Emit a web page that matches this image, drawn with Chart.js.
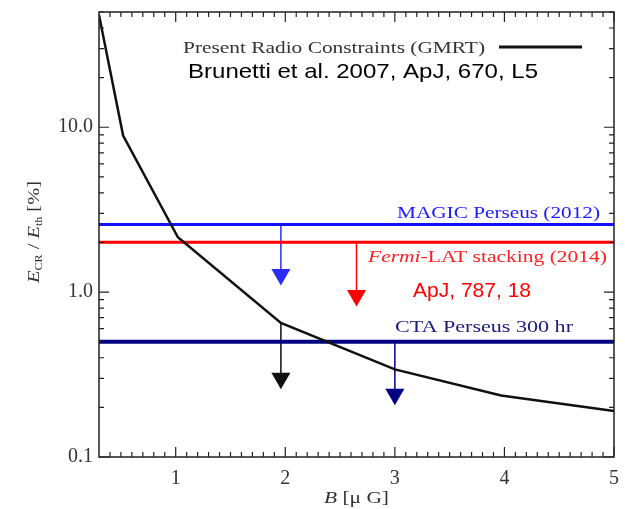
<!DOCTYPE html>
<html>
<head>
<meta charset="utf-8">
<script src="https://cdn.jsdelivr.net/npm/chart.js@4.4.1/dist/chart.umd.min.js"></script>
<style>
  html, body { margin: 0; padding: 0; background: #fff; }
  #chartContainer { width: 625px; height: 509px; }
</style>
</head>
<body>
<div id="chartContainer"><canvas id="ecrChart"></canvas></div>
<script>
// Magnetic field B (micro Gauss) and GMRT radio limit on E_CR / E_th (%)
const bField = [0.3, 0.52, 1.02, 1.96, 3.0, 3.97, 5.0];
const gmrtLimit = [48, 8.9, 2.15, 0.65, 0.34, 0.236, 0.19];

// Gamma-ray upper limits (%), flat in B
const magicLimit = 2.57;
const fermiLimit = 2.01;
const ctaLimit = 0.5;

// Downward arrows: B position, start value, triangle value
const arrowB = [1.96, 1.96, 2.65, 3.0];
const arrowFrom = [2.57, 0.65, 2.01, 0.5];
const arrowTo = [1.28, 0.30, 0.955, 0.24];
const arrowColors = ["#2b2bff", "#111111", "#ff0000", "#000080"];

// Axis ticks
const xTicks = [1, 2, 3, 4, 5];
const xTickLabels = ["1", "2", "3", "4", "5"];
const yTicks = [0.1, 1, 10];
const yTickLabels = ["0.1", "1.0", "10.0"];

const xMin = 0.3, xMax = 5;
const yMin = 0.1, yMax = 50;

const SERIF = "'Liberation Serif', 'Times New Roman', serif";
const SANS = "'Liberation Sans', Arial, sans-serif";

document.addEventListener("DOMContentLoaded", function () {

    function flatLine(value) {
        return [{ x: xMin, y: value }, { x: xMax, y: value }];
    }

    const datasets = [
        {
            label: "Present Radio Constraints (GMRT)",
            data: bField.map((b, i) => ({ x: b, y: gmrtLimit[i] })),
            borderColor: "#111",
            borderWidth: 2.5,
            pointRadius: 0
        },
        { label: "MAGIC", data: flatLine(magicLimit), borderColor: "#1010ff", borderWidth: 3, pointRadius: 0 },
        { label: "Fermi", data: flatLine(fermiLimit), borderColor: "#ff0000", borderWidth: 3, pointRadius: 0 },
        { label: "CTA", data: flatLine(ctaLimit), borderColor: "#000080", borderWidth: 4, pointRadius: 0 }
    ];

    arrowB.forEach(function (b, i) {
        datasets.push({
            label: "arrow" + i,
            data: [{ x: b, y: arrowFrom[i] }, { x: b, y: arrowTo[i] }],
            borderColor: arrowColors[i],
            borderWidth: 1.5,
            pointRadius: [0, 11],
            pointStyle: "triangle",
            rotation: 180,
            pointBackgroundColor: arrowColors[i],
            pointBorderColor: arrowColors[i],
            pointBorderWidth: 0
        });
    });

    // draw text pieces stretched to a target width
    function drawText(ctx, parts, x, y, align, targetWidth, color) {
        let natural = 0;
        parts.forEach(function (p) {
            ctx.font = p.font;
            p.w = ctx.measureText(p.t).width;
            natural += p.w;
        });
        const sx = targetWidth ? targetWidth / natural : 1;
        const total = natural * sx;
        let start = x;
        if (align === "center") start = x - total / 2;
        if (align === "right") start = x - total;
        ctx.save();
        ctx.translate(start, y);
        ctx.scale(sx, 1);
        ctx.fillStyle = color;
        ctx.textAlign = "left";
        ctx.textBaseline = "alphabetic";
        let cx = 0;
        parts.forEach(function (p) {
            ctx.font = p.font;
            ctx.fillText(p.t, cx, p.dy || 0);
            cx += p.w;
        });
        ctx.restore();
    }

    const framePlugin = {
        id: "frame",
        afterDraw(chart) {
            const ctx = chart.ctx;
            const area = chart.chartArea;
            const xs = chart.scales.x, ys = chart.scales.y;
            ctx.save();
            ctx.strokeStyle = "#222";
            ctx.lineWidth = 1.5;
            ctx.strokeRect(area.left, area.top, area.right - area.left, area.bottom - area.top);

            ctx.lineWidth = 1.2;
            ctx.beginPath();
            // x ticks every 0.1, major at integers
            for (let k = 4; k <= 50; k++) {
                const v = k / 10;
                const px = xs.getPixelForValue(v);
                const len = k % 10 === 0 ? 10 : 5;
                ctx.moveTo(px, area.bottom); ctx.lineTo(px, area.bottom - len);
                ctx.moveTo(px, area.top); ctx.lineTo(px, area.top + len);
            }
            // y ticks per decade
            [0.1, 1, 10].forEach(function (dec) {
                for (let m = 1; m <= 9; m++) {
                    const v = dec * m;
                    if (v > yMax) break;
                    const py = ys.getPixelForValue(v);
                    const len = m === 1 ? 10 : 5;
                    ctx.moveTo(area.left, py); ctx.lineTo(area.left + len, py);
                    ctx.moveTo(area.right, py); ctx.lineTo(area.right - len, py);
                }
            });
            ctx.stroke();

            // legend entry for the radio curve
            drawText(ctx, [{ t: "Present Radio Constraints (GMRT)", font: "17px " + SERIF }], 183, 53, "left", 302, "#333");
            ctx.strokeStyle = "#111";
            ctx.lineWidth = 3;
            ctx.beginPath();
            ctx.moveTo(499, 47); ctx.lineTo(582, 47);
            ctx.stroke();
            drawText(ctx, [{ t: "Brunetti et al. 2007, ApJ, 670, L5", font: "21px " + SANS }], 188, 78, "left", 350, "#000");

            // limit labels
            const yMagic = ys.getPixelForValue(magicLimit);
            const yFermi = ys.getPixelForValue(fermiLimit);
            const yCta = ys.getPixelForValue(ctaLimit);
            drawText(ctx, [{ t: "MAGIC Perseus (2012)", font: "17px " + SERIF }], 600, yMagic - 7, "right", 203, "#1a1aff");
            drawText(ctx, [
                { t: "Fermi", font: "italic 17px " + SERIF },
                { t: "-LAT stacking (2014)", font: "17px " + SERIF }
            ], 607, yFermi + 20, "right", 239, "#ff2020");
            drawText(ctx, [{ t: "ApJ, 787, 18", font: "21px " + SANS }], 413, yFermi + 55, "left", 118, "#ff0000");
            drawText(ctx, [{ t: "CTA Perseus 300 hr", font: "17px " + SERIF }], 395, yCta - 10, "left", 178, "#1a1a80");

            // axis titles
            drawText(ctx, [
                { t: "B", font: "italic 17px " + SERIF },
                { t: " [\u03bc G]", font: "17px " + SERIF }
            ], (area.left + area.right) / 2, 503, "center", 65, "#333");

            ctx.save();
            ctx.translate(39, 232);
            ctx.rotate(-Math.PI / 2);
            drawText(ctx, [
                { t: "E", font: "italic 17px " + SERIF },
                { t: "CR", font: "10px " + SERIF, dy: 3 },
                { t: " / ", font: "17px " + SERIF },
                { t: "E", font: "italic 17px " + SERIF },
                { t: "th", font: "10px " + SERIF, dy: 3 },
                { t: " [%]", font: "17px " + SERIF }
            ], 0, 0, "center", 102, "#333");
            ctx.restore();

            ctx.restore();
        }
    };

    const ctx = document.getElementById("ecrChart").getContext("2d");
    new Chart(ctx, {
        type: "line",
        data: { datasets: datasets },
        options: {
            responsive: true,
            maintainAspectRatio: false,
            animation: false,
            layout: { padding: { top: 12, right: 10, left: 0, bottom: 0 } },
            plugins: {
                legend: { display: false },
                tooltip: { enabled: false }
            },
            scales: {
                x: {
                    type: "linear",
                    min: xMin,
                    max: xMax,
                    grid: { display: false, drawTicks: false },
                    border: { display: false },
                    afterBuildTicks: function (scale) {
                        scale.ticks = xTicks.map(v => ({ value: v }));
                    },
                    afterFit: function (scale) {
                        scale.height = 52;
                        scale.paddingLeft = 0;
                        scale.paddingRight = 0;
                    },
                    ticks: {
                        padding: 10,
                        color: "#333",
                        font: { family: SERIF, size: 20 },
                        callback: function (value) {
                            const i = xTicks.indexOf(value);
                            return i >= 0 ? xTickLabels[i] : "";
                        }
                    }
                },
                y: {
                    type: "logarithmic",
                    min: yMin,
                    max: yMax,
                    grid: { display: false, drawTicks: false },
                    border: { display: false },
                    afterBuildTicks: function (scale) {
                        scale.ticks = yTicks.map(v => ({ value: v }));
                    },
                    afterFit: function (scale) {
                        scale.width = 99;
                        scale.paddingTop = 0;
                        scale.paddingBottom = 0;
                    },
                    ticks: {
                        padding: 6,
                        color: "#333",
                        font: { family: SERIF, size: 20 },
                        callback: function (value) {
                            const i = yTicks.indexOf(value);
                            return i >= 0 ? yTickLabels[i] : "";
                        }
                    }
                }
            }
        },
        plugins: [framePlugin]
    });
});
</script>
</body>
</html>
